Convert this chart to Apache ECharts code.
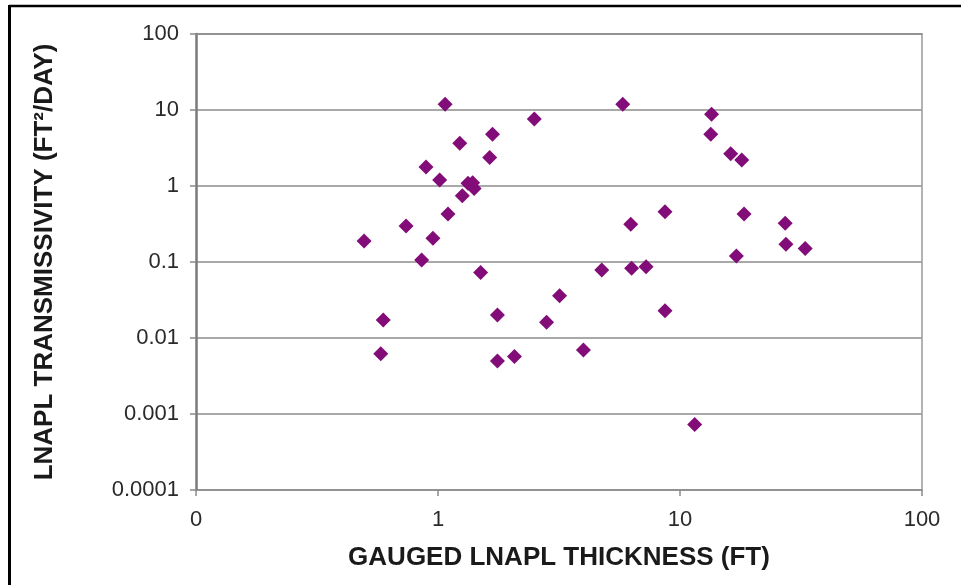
<!DOCTYPE html>
<html>
<head>
<meta charset="utf-8">
<script src="https://cdn.jsdelivr.net/npm/echarts@6/dist/echarts.min.js"></script>
<style>
html,body{margin:0;padding:0;background:#fff;}
#c{width:961px;height:585px;}
</style>
</head>
<body>
<div id="c"></div>
<script>
// Gauged LNAPL thickness (ft)
var thickness = [1.07, 2.5, 1.68, 1.23, 1.635, 0.892, 1.016, 1.33, 1.39, 1.41, 1.26, 1.10, 0.738, 0.495, 0.953, 0.856, 1.50, 3.18, 0.594, 0.58, 1.76, 1.76, 2.07, 2.81, 3.99, 5.8, 13.5, 13.4, 16.2, 18.0, 8.67, 18.4, 6.26, 27.2, 27.4, 32.9, 17.1, 4.75, 6.31, 7.24, 8.67, 11.5];
// LNAPL transmissivity (ft2/day)
var transmissivity = [11.9, 7.6, 4.8, 3.65, 2.38, 1.78, 1.2, 1.085, 1.1, 0.93, 0.745, 0.428, 0.298, 0.189, 0.205, 0.106, 0.073, 0.036, 0.0173, 0.0062, 0.020, 0.005, 0.0057, 0.0161, 0.00695, 11.9, 8.8, 4.8, 2.66, 2.2, 0.459, 0.428, 0.313, 0.323, 0.171, 0.15, 0.12, 0.0785, 0.0826, 0.0867, 0.0229, 0.00073];
var xTickLabels = ['0', '1', '10', '100'];          // for 0.1, 1, 10, 100
var yTickLabels = ['0.0001', '0.001', '0.01', '0.1', '1', '10', '100'];
var xTitle = 'GAUGED LNAPL THICKNESS (FT)';
var yTitle = 'LNAPL TRANSMISSIVITY (FT²/DAY)';

var points = thickness.map(function (t, i) { return [t, transmissivity[i]]; });

var FONT = '"Liberation Sans", Arial, sans-serif';
var chart = echarts.init(document.getElementById('c'), null, { renderer: 'canvas' });
chart.setOption({
  backgroundColor: '#ffffff',
  animation: false,
  grid: { left: 196, right: 39, top: 34, bottom: 95 },
  xAxis: [{
    type: 'log', logBase: 10, min: 0.1, max: 100,
    name: xTitle, nameLocation: 'middle', nameGap: 55,
    nameTextStyle: { fontFamily: FONT, fontWeight: 'bold', fontSize: 26, color: '#1a1a1a' },
    axisLine: { show: true, lineStyle: { color: '#8a8a8a', width: 1.5 } },
    axisTick: { show: true, length: 6, lineStyle: { color: '#8a8a8a', width: 1.5 } },
    minorTick: { show: false },
    splitLine: { show: false },
    axisLabel: {
      fontFamily: FONT, fontSize: 22, color: '#2a2a2a', margin: 19,
      formatter: function (v) { return xTickLabels[Math.round(Math.log10(v)) + 1]; }
    }
  }, {
    type: 'log', logBase: 10, min: 0.1, max: 100, position: 'top',
    axisLine: { show: true, lineStyle: { color: '#8a8a8a', width: 1.5 } },
    axisTick: { show: false }, axisLabel: { show: false }, splitLine: { show: false }
  }],
  yAxis: [{
    type: 'log', logBase: 10, min: 0.0001, max: 100,
    name: yTitle, nameLocation: 'middle', nameGap: 138,
    nameTextStyle: { fontFamily: FONT, fontWeight: 'bold', fontSize: 26, color: '#1a1a1a' },
    axisLine: { show: true, lineStyle: { color: '#7a7a7a', width: 2.5 } },
    axisTick: { show: true, length: 6, lineStyle: { color: '#8a8a8a', width: 1.5 } },
    splitLine: { show: true, lineStyle: { color: '#8c8c8c', width: 1.5 } },
    axisLabel: {
      fontFamily: FONT, fontSize: 22, color: '#2a2a2a', margin: 17,
      formatter: function (v) { return yTickLabels[Math.round(Math.log10(v)) + 4]; }
    }
  }, {
    type: 'log', logBase: 10, min: 0.0001, max: 100, position: 'right',
    axisLine: { show: true, lineStyle: { color: '#9a9a9a', width: 1.5 } },
    axisTick: { show: false }, axisLabel: { show: false }, splitLine: { show: false }
  }],
  series: [{
    type: 'scatter',
    xAxisIndex: 0, yAxisIndex: 0,
    symbol: 'diamond',
    symbolSize: [15, 15],
    itemStyle: { color: '#820c78', opacity: 1 },
    data: points
  }],
  graphic: [
    { type: 'line', shape: { x1: 9, y1: 6, x2: 961, y2: 6 }, style: { stroke: '#000', lineWidth: 2.5 } },
    { type: 'line', shape: { x1: 9.5, y1: 5, x2: 9.5, y2: 585 }, style: { stroke: '#000', lineWidth: 3 } }
  ]
});
</script>
</body>
</html>
